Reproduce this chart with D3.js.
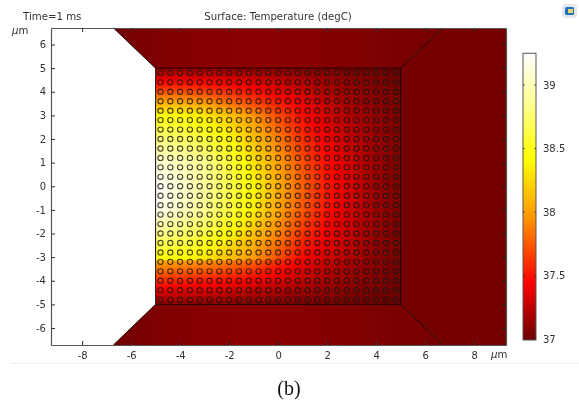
<!DOCTYPE html>
<html>

<head>
  <meta charset="utf-8">
  <title>Surface: Temperature (degC)</title>
  <script src="https://d3js.org/d3.v7.min.js"></script>
  <style>
    html, body { margin: 0; background: #fff; overflow: hidden; }
    svg { display: block; filter: blur(0.35px); }
    text { font-family: "DejaVu Sans", sans-serif; fill: #333; }
    .axis path { stroke: #555; stroke-width: 1.2px; }
    .axis line { stroke: #333; }
    .axis text { font-size: 10px; fill: #333; }
  </style>
</head>

<body>
  <svg id="chart" width="579" height="402"></svg>

  <script>
    // temperature (degC), x = -5..5 um across, y = 5..-5 um down
    const fieldX = [-5, -4, -3, -2, -1, 0, 1, 2, 3, 4, 5];
    const fieldY = [5, 4.5, 4, 3.5, 3, 2, 1, 0, -1, -2, -3.1, -3.15, -4, -4.5, -5];
    const fieldT = [
      [37.12, 37.12, 37.12, 37.10, 37.10, 37.08, 37.06, 37.05, 37.03, 37.02, 37.00],
      [37.40, 37.40, 37.38, 37.35, 37.30, 37.25, 37.20, 37.15, 37.10, 37.06, 37.02],
      [37.72, 37.72, 37.68, 37.60, 37.50, 37.40, 37.30, 37.20, 37.13, 37.08, 37.03],
      [38.10, 38.08, 38.00, 37.85, 37.70, 37.55, 37.40, 37.27, 37.17, 37.10, 37.04],
      [38.42, 38.42, 38.32, 38.15, 37.95, 37.70, 37.48, 37.32, 37.20, 37.12, 37.05],
      [38.80, 38.72, 38.60, 38.42, 38.15, 37.88, 37.60, 37.40, 37.25, 37.14, 37.05],
      [39.10, 39.00, 38.85, 38.60, 38.30, 38.00, 37.72, 37.48, 37.30, 37.15, 37.05],
      [39.25, 39.10, 38.90, 38.65, 38.40, 38.05, 37.78, 37.52, 37.32, 37.15, 37.05],
      [39.20, 39.05, 38.85, 38.60, 38.35, 38.02, 37.75, 37.50, 37.30, 37.15, 37.05],
      [38.85, 38.75, 38.62, 38.42, 38.15, 37.90, 37.62, 37.42, 37.27, 37.13, 37.04],
      [38.42, 38.40, 38.30, 38.12, 37.95, 37.70, 37.45, 37.30, 37.20, 37.10, 37.03],
      [38.05, 38.02, 37.98, 37.90, 37.80, 37.60, 37.42, 37.28, 37.18, 37.09, 37.03],
      [37.60, 37.55, 37.52, 37.48, 37.42, 37.35, 37.25, 37.18, 37.12, 37.06, 37.02],
      [37.35, 37.32, 37.30, 37.27, 37.22, 37.18, 37.14, 37.10, 37.06, 37.03, 37.01],
      [37.10, 37.10, 37.09, 37.08, 37.07, 37.06, 37.05, 37.04, 37.03, 37.01, 37.00]
    ];

    // the top and bottom pieces only change left to right
    const bandX = [-6.72, -5, -3, -1, 1, 3, 5, 6.72];
    const bandT = [37.02, 37.06, 37.09, 37.10, 37.09, 37.07, 37.05, 37.04];
    const sideT = 37.03;

    // corners of the pieces, in um
    const topPiece = [[-6.72, 6.7], [6.72, 6.7], [5, 5], [-5, 5]];
    const bottomPiece = [[-6.72, -6.72], [6.72, -6.72], [5, -5], [-5, -5]];
    const rightPiece = [[5, 5], [6.72, 6.7], [9.3, 6.7], [9.3, -6.72], [6.72, -6.72], [5, -5]];

    // hole centres
    const holeX = [-4.8, -4.4, -4, -3.6, -3.2, -2.8, -2.4, -2, -1.6, -1.2, -0.8, -0.4, 0, 0.4, 0.8, 1.2, 1.6, 2, 2.4, 2.8, 3.2, 3.6, 4, 4.4, 4.8];
    const holeY = [4.8, 4.4, 4, 3.6, 3.2, 2.8, 2.4, 2, 1.6, 1.2, 0.8, 0.4, 0, -0.4, -0.8, -1.2, -1.6, -2, -2.4, -2.8, -3.2, -3.6, -4, -4.4, -4.8];

    const xTicks = [-8, -6, -4, -2, 0, 2, 4, 6, 8];
    const yTicks = [-6, -5, -4, -3, -2, -1, 0, 1, 2, 3, 4, 5, 6];
    const barTicks = [37, 37.5, 38, 38.5, 39];

    // colour table stops
    const colorT = [37, 37.45, 38, 38.42, 38.85, 39.25];
    const colorC = ["#6a0000", "#ff0000", "#ffa000", "#ffff00", "#ffff90", "#ffffff"];

    const svg = d3.select("#chart");

    const x = d3.scaleLinear().domain([-9.27, 9.3]).range([51, 506]);
    const y = d3.scaleLinear().domain([6.7, -6.72]).range([28, 345]);
    const barY = d3.scaleLinear().domain([37, 39]).range([339, 85]);
    const color = d3.scaleLinear().domain(colorT).range(colorC).clamp(true);

    const toPoints = pts => pts.map(p => x(p[0]) + "," + y(p[1])).join(" ");

    const defs = svg.append("defs");

    // left to right gradient for the top and bottom pieces
    defs.append("linearGradient")
      .attr("id", "band")
      .attr("gradientUnits", "userSpaceOnUse")
      .attr("x1", x(bandX[0])).attr("x2", x(bandX[bandX.length - 1]))
      .attr("y1", 0).attr("y2", 0)
      .selectAll("stop").data(bandX)
      .join("stop")
      .attr("offset", d => (d - bandX[0]) / (bandX[bandX.length - 1] - bandX[0]))
      .attr("stop-color", (d, i) => color(bandT[i]));

    // colour bar gradient
    const barTop = 39.25;
    defs.append("linearGradient")
      .attr("id", "bar")
      .attr("x1", 0).attr("x2", 0).attr("y1", 1).attr("y2", 0)
      .selectAll("stop").data(colorT)
      .join("stop")
      .attr("offset", d => (d - 37) / (barTop - 37))
      .attr("stop-color", d => color(d));

    svg.selectAll(".band").data([topPiece, bottomPiece])
      .join("polygon")
      .attr("class", "band")
      .attr("points", toPoints)
      .attr("fill", "url(#band)");

    svg.append("polygon")
      .attr("points", toPoints(rightPiece))
      .attr("fill", color(sideT));

    // middle square: one pixel per screen pixel, looked up in the table
    const fx = d3.scaleLinear().domain(fieldX).range(d3.range(fieldX.length)).clamp(true);
    const fy = d3.scaleLinear().domain(fieldY).range(d3.range(fieldY.length)).clamp(true);
    const sqLeft = Math.round(x(-5)), sqRight = Math.round(x(5));
    const sqTop = Math.round(y(5)), sqBottom = Math.round(y(-5));
    const canvas = document.createElement("canvas");
    canvas.width = sqRight - sqLeft;
    canvas.height = sqBottom - sqTop;
    const ctx = canvas.getContext("2d");
    const img = ctx.createImageData(canvas.width, canvas.height);
    for (let py = 0; py < canvas.height; py++) {
      const v = fy(y.invert(sqTop + py + 0.5));
      const r0 = Math.min(Math.floor(v), fieldY.length - 2);
      const rt = v - r0;
      for (let px = 0; px < canvas.width; px++) {
        const u = fx(x.invert(sqLeft + px + 0.5));
        const c0 = Math.min(Math.floor(u), fieldX.length - 2);
        const ct = u - c0;
        const a = fieldT[r0][c0] * (1 - ct) + fieldT[r0][c0 + 1] * ct;
        const b = fieldT[r0 + 1][c0] * (1 - ct) + fieldT[r0 + 1][c0 + 1] * ct;
        const c = d3.rgb(color(a * (1 - rt) + b * rt));
        const k = (py * canvas.width + px) * 4;
        img.data[k] = c.r;
        img.data[k + 1] = c.g;
        img.data[k + 2] = c.b;
        img.data[k + 3] = 255;
      }
    }
    ctx.putImageData(img, 0, 0);

    svg.append("image")
      .attr("x", sqLeft).attr("y", sqTop)
      .attr("width", canvas.width).attr("height", canvas.height)
      .attr("href", canvas.toDataURL());

    // holes
    const holes = holeY.flatMap(hy => holeX.map(hx => [hx, hy]));
    svg.append("g").selectAll("circle").data(holes)
      .join("circle")
      .attr("cx", d => x(d[0]))
      .attr("cy", d => y(d[1]))
      .attr("r", 2.6)
      .attr("fill", "none")
      .attr("stroke", "#1a1a1a")
      .attr("stroke-opacity", 0.8)
      .attr("stroke-width", 1.15);

    // geometry edges
    svg.append("rect")
      .attr("x", x(-5)).attr("y", y(5))
      .attr("width", x(5) - x(-5)).attr("height", y(-5) - y(5))
      .attr("fill", "none").attr("stroke", "#1a0000").attr("stroke-width", 1);

    svg.selectAll(".edge").data([[[-5, 5], [-6.72, 6.7]], [[5, 5], [6.72, 6.7]], [[-5, -5], [-6.72, -6.72]], [[5, -5], [6.72, -6.72]]])
      .join("line")
      .attr("class", "edge")
      .attr("x1", d => x(d[0][0])).attr("y1", d => y(d[0][1]))
      .attr("x2", d => x(d[1][0])).attr("y2", d => y(d[1][1]))
      .attr("stroke", "#180000").attr("stroke-width", 1);

    // axes, ticks point into the plot
    const plain = d => String(d);
    svg.append("g").attr("class", "axis")
      .attr("transform", "translate(0,345)")
      .call(d3.axisBottom(x).tickValues(xTicks).tickSizeInner(-4).tickSizeOuter(0).tickPadding(7).tickFormat(plain));
    svg.append("g").attr("class", "axis")
      .attr("transform", "translate(51,0)")
      .call(d3.axisLeft(y).tickValues(yTicks).tickSizeInner(-4).tickSizeOuter(0).tickPadding(5).tickFormat(plain));
    svg.append("g").attr("class", "axis")
      .attr("transform", "translate(0,28)")
      .call(d3.axisTop(x).tickValues(xTicks).tickSizeInner(-4).tickSizeOuter(0).tickFormat(""));
    svg.append("g").attr("class", "axis")
      .attr("transform", "translate(506,0)")
      .call(d3.axisRight(y).tickValues(yTicks).tickSizeInner(-4).tickSizeOuter(0).tickFormat(""));

    // colour bar
    svg.append("rect")
      .attr("x", 523).attr("y", barY(barTop))
      .attr("width", 13).attr("height", barY(37) - barY(barTop) + 1)
      .attr("fill", "url(#bar)")
      .attr("stroke", "#555").attr("stroke-width", 1);

    svg.append("g").attr("class", "axis")
      .attr("transform", "translate(536,0)")
      .call(d3.axisRight(barY).tickValues(barTicks).tickSize(0).tickPadding(7).tickFormat(plain))
      .call(g => g.select(".domain").remove());

    svg.append("g").selectAll("line").data(barTicks.filter(d => d > 37).flatMap(d => [[523, d], [534.5, d]]))
      .join("line")
      .attr("x1", d => d[0]).attr("x2", d => d[0] + 1.5)
      .attr("y1", d => barY(d[1])).attr("y2", d => barY(d[1]))
      .attr("stroke", "#333");

    // titles
    svg.append("text").attr("x", 23).attr("y", 20).attr("font-size", 10.2).text("Time=1 ms");
    svg.append("text").attr("x", 278).attr("y", 20).attr("font-size", 10.2).attr("text-anchor", "middle").text("Surface: Temperature (degC)");

    // unit labels
    [[12, 34], [491, 358]].forEach(p => {
      const t = svg.append("text").attr("x", p[0]).attr("y", p[1]).attr("font-size", 10.2);
      t.append("tspan").attr("font-style", "italic").text("μ");
      t.append("tspan").text("m");
    });

    // caption
    svg.append("line")
      .attr("x1", 11).attr("x2", 579).attr("y1", 363.5).attr("y2", 363.5)
      .attr("stroke", "#eeeeee");
    svg.append("text")
      .attr("x", 289).attr("y", 395)
      .attr("text-anchor", "middle")
      .style("font-family", "'Liberation Serif', serif")
      .style("fill", "#111")
      .attr("font-size", 20)
      .text("(b)");

    // small window icon in the corner
    const icon = svg.append("g");
    icon.append("rect").attr("x", 562).attr("y", 4).attr("width", 15).attr("height", 14).attr("rx", 4).attr("fill", "#e4e8ee");
    icon.append("rect").attr("x", 565).attr("y", 7).attr("width", 9).attr("height", 8).attr("rx", 1.5).attr("fill", "#1f6fc4");
    icon.append("rect").attr("x", 568).attr("y", 9).attr("width", 5).attr("height", 4).attr("fill", "#e8d860");
  </script>
</body>

</html>
